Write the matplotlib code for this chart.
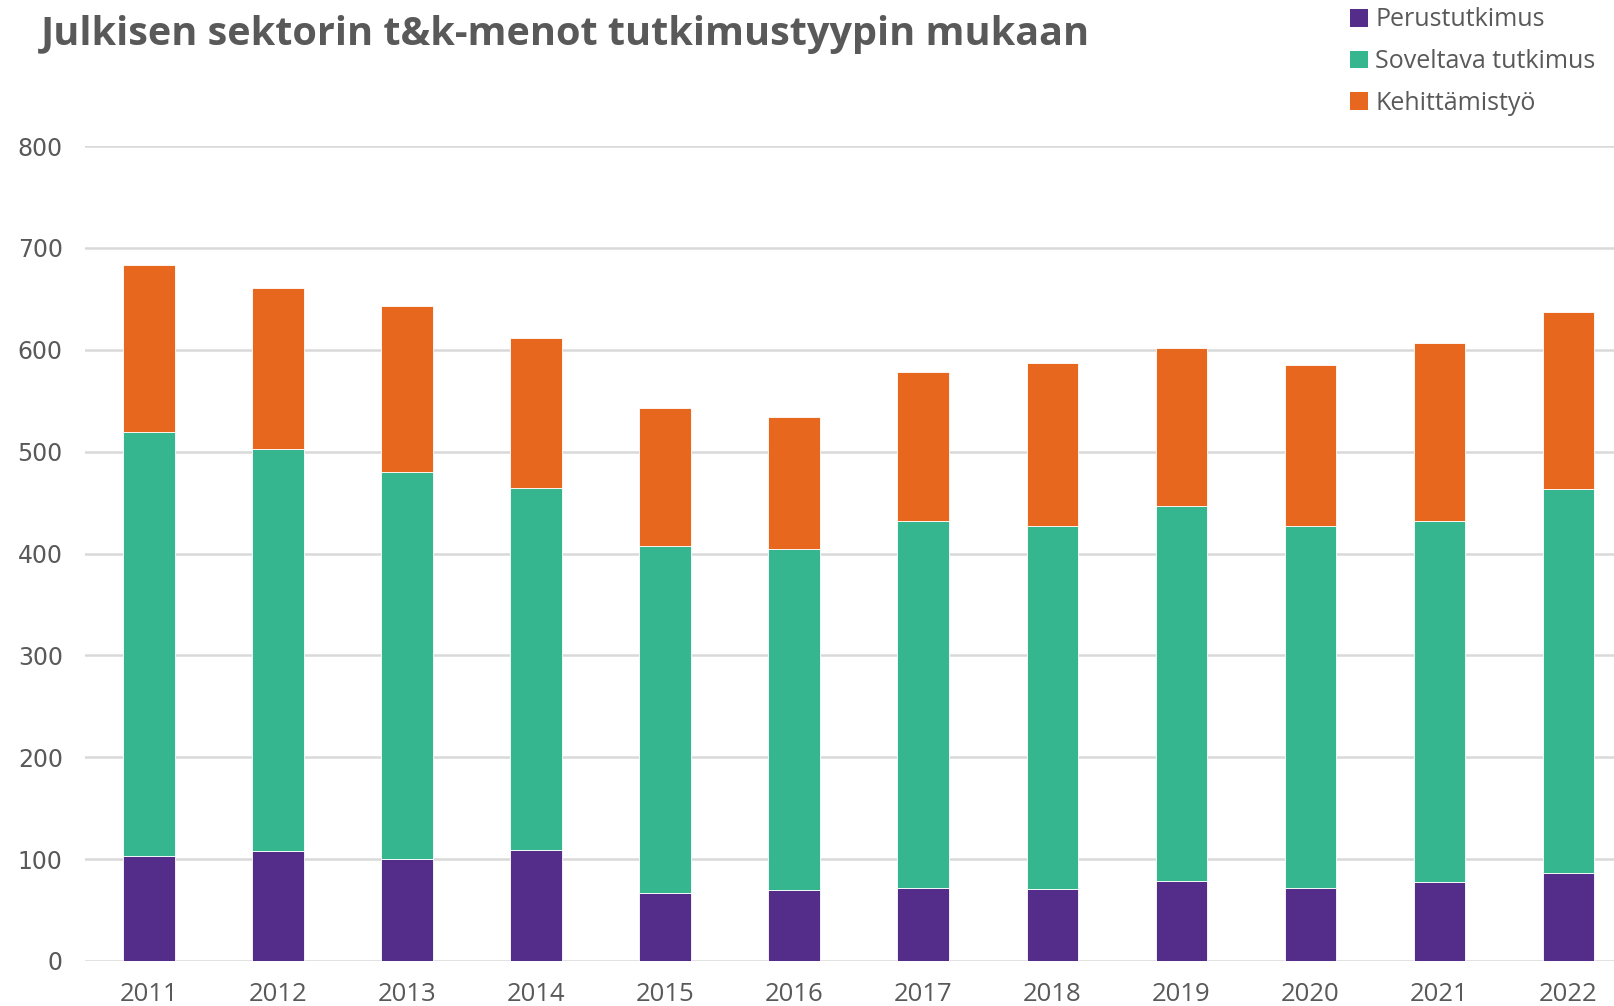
import matplotlib
matplotlib.use("Agg")
import matplotlib.pyplot as plt
from matplotlib.patches import Patch

years = ["2011", "2012", "2013", "2014", "2015", "2016", "2017", "2018", "2019", "2020", "2021", "2022"]
perustutkimus = [103, 108, 100, 109, 67, 70, 72, 71, 79, 72, 78, 86]
soveltava = [416, 395, 380, 355, 340, 334, 360, 356, 368, 355, 354, 377]
kehittamistyo = [164, 158, 163, 148, 136, 130, 146, 160, 155, 158, 175, 174]
series_names = ["Perustutkimus", "Soveltava tutkimus", "Kehittämistyö"]
colors = ["#542D8A", "#36B68F", "#E8671E"]
yticks = [0, 100, 200, 300, 400, 500, 600, 700, 800]
title = "Julkisen sektorin t&k-menot tutkimustyypin mukaan"

plt.rcParams['font.family'] = ['Open Sans', 'DejaVu Sans']
grey = "#595959"

fig = plt.figure(figsize=(16.15, 10.06), dpi=100)
ax = fig.add_axes([85/1615, 1-961/1006, 1530/1615, (961-146)/1006])

x = list(range(len(years)))
bottom2 = perustutkimus
bottom3 = [a + b for a, b in zip(perustutkimus, soveltava)]
w = 0.4
ax.bar(x, perustutkimus, width=w, color=colors[0], edgecolor="white", linewidth=0.6, zorder=3)
ax.bar(x, soveltava, width=w, bottom=bottom2, color=colors[1], edgecolor="white", linewidth=0.6, zorder=3)
ax.bar(x, kehittamistyo, width=w, bottom=bottom3, color=colors[2], edgecolor="white", linewidth=0.6, zorder=3)

ax.set_xlim(-0.496, 11.36)
ax.set_ylim(0, 800)
ax.set_yticks(yticks)
ax.set_yticklabels([str(v) for v in yticks], family=['DejaVu Sans'], fontsize=17, color=grey)
ax.set_xticks(x)
ax.set_xticklabels(years, fontsize=18.5, color=grey)
ax.tick_params(axis='y', length=0, pad=16)
ax.tick_params(axis='x', length=0, pad=15)
ax.grid(axis='y', color="#d9d9d9", linewidth=1.8, zorder=0)
for s in ax.spines.values():
    s.set_visible(False)
ax.set_axisbelow(True)

fig.text(41/1615, 1-34/1006, title, fontsize=28.5, fontweight='bold', color=grey, va='center', ha='left')

handles = [Patch(facecolor=c, edgecolor='none') for c in colors]
fig.legend(handles, series_names, loc='upper left', bbox_to_anchor=(1328/1615, 1+15/1006),
           frameon=False, fontsize=18, labelcolor=grey, handlelength=0.7, handleheight=0.7,
           handletextpad=0.3, labelspacing=0.66)

fig.savefig("out.png", dpi=100)
